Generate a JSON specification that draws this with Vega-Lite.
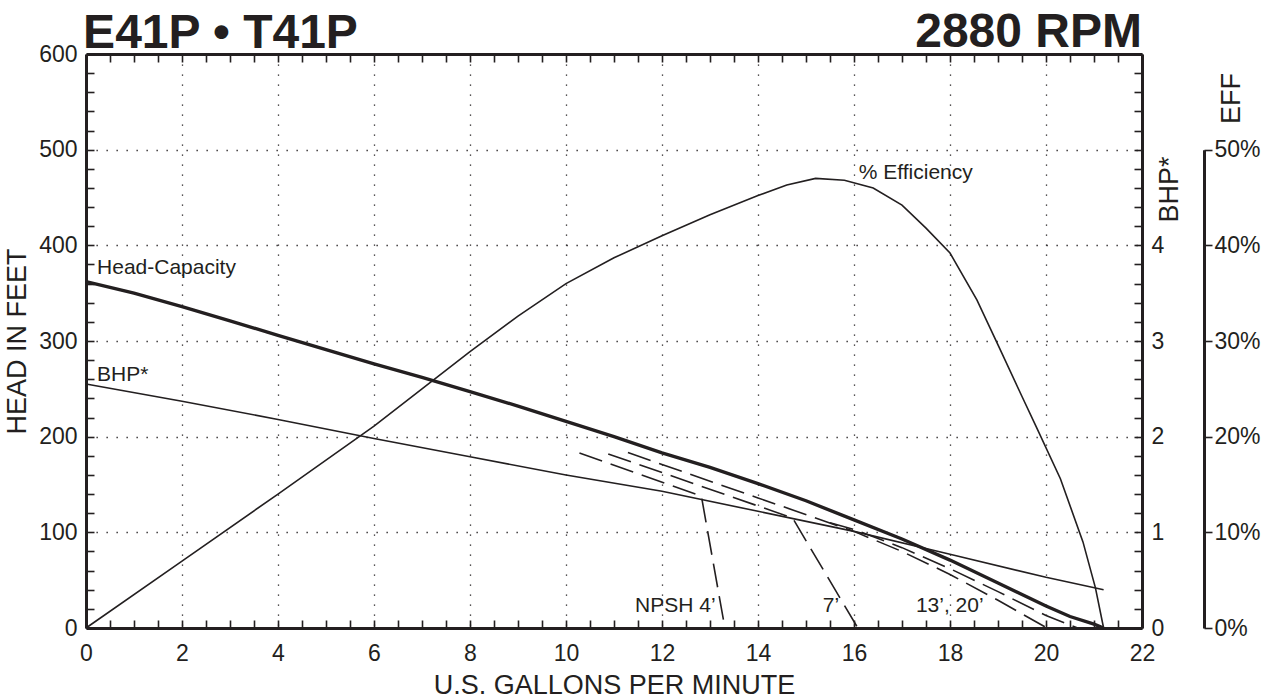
{
  "$schema": "https://vega.github.io/schema/vega-lite/v6.json",
  "width": 1056,
  "height": 574,
  "autosize": {"type": "none"},
  "padding": {"left": 86, "top": 54, "right": 134, "bottom": 70},
  "background": "white",
  "config": {
    "view": {"stroke": null},
    "font": "Liberation Sans",
    "axis": {
      "domainColor": "#231f20", "domainWidth": 3,
      "tickColor": "#231f20", "tickWidth": 1.6,
      "labelColor": "#231f20", "labelFont": "Liberation Sans", "labelFontSize": 23,
      "titleColor": "#231f20", "titleFont": "Liberation Sans", "titleFontSize": 27, "titleFontWeight": "normal",
      "labelOverlap": false, "labelFlush": false, "labelBound": false,
      "gridColor": "#231f20", "gridDash": [1.3, 8.7], "gridWidth": 1.3
    }
  },
  "datasets": {
    "head": [
      {"gpm": 0, "ft": 362}, {"gpm": 1, "ft": 350}, {"gpm": 2, "ft": 336}, {"gpm": 3, "ft": 321},
      {"gpm": 4, "ft": 306}, {"gpm": 5, "ft": 291}, {"gpm": 6, "ft": 276}, {"gpm": 7, "ft": 262},
      {"gpm": 8, "ft": 247}, {"gpm": 9, "ft": 232}, {"gpm": 10, "ft": 216}, {"gpm": 11, "ft": 200},
      {"gpm": 12, "ft": 183}, {"gpm": 13, "ft": 168}, {"gpm": 14, "ft": 151}, {"gpm": 15, "ft": 133},
      {"gpm": 16, "ft": 113}, {"gpm": 17, "ft": 93}, {"gpm": 18, "ft": 71}, {"gpm": 19, "ft": 47},
      {"gpm": 20, "ft": 23}, {"gpm": 20.5, "ft": 12}, {"gpm": 21, "ft": 4}, {"gpm": 21.2, "ft": 0}
    ],
    "bhp": [
      {"gpm": 0, "bhp": 2.55}, {"gpm": 2, "bhp": 2.37}, {"gpm": 4, "bhp": 2.18}, {"gpm": 6, "bhp": 1.98},
      {"gpm": 8, "bhp": 1.79}, {"gpm": 10, "bhp": 1.6}, {"gpm": 12, "bhp": 1.43}, {"gpm": 14, "bhp": 1.22},
      {"gpm": 16, "bhp": 1.01}, {"gpm": 18, "bhp": 0.77}, {"gpm": 20, "bhp": 0.53}, {"gpm": 21.2, "bhp": 0.4}
    ],
    "eff": [
      {"gpm": 0, "eff": 0}, {"gpm": 2, "eff": 7}, {"gpm": 4, "eff": 14}, {"gpm": 6, "eff": 21.1},
      {"gpm": 7, "eff": 25}, {"gpm": 8, "eff": 28.9}, {"gpm": 9, "eff": 32.6}, {"gpm": 10, "eff": 36},
      {"gpm": 11, "eff": 38.7}, {"gpm": 12, "eff": 41}, {"gpm": 13, "eff": 43.2}, {"gpm": 14, "eff": 45.2},
      {"gpm": 14.6, "eff": 46.3}, {"gpm": 15.2, "eff": 47}, {"gpm": 15.8, "eff": 46.8}, {"gpm": 16.4, "eff": 46},
      {"gpm": 17, "eff": 44.2}, {"gpm": 17.5, "eff": 41.8}, {"gpm": 18, "eff": 39.2}, {"gpm": 18.56, "eff": 34.3},
      {"gpm": 19, "eff": 29.6}, {"gpm": 19.5, "eff": 24.2}, {"gpm": 19.8, "eff": 21}, {"gpm": 20.3, "eff": 15.6},
      {"gpm": 20.77, "eff": 9}, {"gpm": 21.03, "eff": 4.2}, {"gpm": 21.2, "eff": 0}
    ],
    "npsh": [
      {"curve": "4", "gpm": 10.28, "ft": 183}, {"curve": "4", "gpm": 12.82, "ft": 138}, {"curve": "4", "gpm": 13.31, "ft": 0},
      {"curve": "7", "gpm": 10.88, "ft": 182}, {"curve": "7", "gpm": 14.72, "ft": 115}, {"curve": "7", "gpm": 16.08, "ft": 0},
      {"curve": "13", "gpm": 11.29, "ft": 183.4}, {"curve": "13", "gpm": 14, "ft": 136}, {"curve": "13", "gpm": 16, "ft": 101},
      {"curve": "13", "gpm": 17, "ft": 80}, {"curve": "13", "gpm": 18, "ft": 56}, {"curve": "13", "gpm": 19, "ft": 29},
      {"curve": "13", "gpm": 20.02, "ft": 0},
      {"curve": "20", "gpm": 15.5, "ft": 110}, {"curve": "20", "gpm": 16, "ft": 103}, {"curve": "20", "gpm": 17, "ft": 84},
      {"curve": "20", "gpm": 18, "ft": 62}, {"curve": "20", "gpm": 19, "ft": 38}, {"curve": "20", "gpm": 20, "ft": 13},
      {"curve": "20", "gpm": 20.66, "ft": 0}
    ],
    "labels": [
      {"gpm": 0.23, "ft": 376, "text": "Head-Capacity"},
      {"gpm": 0.23, "ft": 264.5, "text": "BHP*"},
      {"gpm": 16.1, "ft": 476, "text": "% Efficiency"},
      {"gpm": 11.44, "ft": 23, "text": "NPSH 4’"},
      {"gpm": 15.35, "ft": 23, "text": "7’"},
      {"gpm": 17.29, "ft": 23, "text": "13’, 20’"}
    ],
    "titleLeft": [{"gpm": -0.06, "ft": 606, "text": "E41P • T41P"}],
    "titleRight": [{"gpm": 22, "ft": 607, "text": "2880 RPM"}]
  },
  "layer": [
    {
      "data": {"name": "head"},
      "mark": {"type": "line", "color": "#231f20", "strokeWidth": 3.4},
      "encoding": {
        "x": {
          "field": "gpm", "type": "quantitative",
          "scale": {"domain": [0, 22], "nice": false, "zero": false},
          "axis": {
            "orient": "bottom", "title": "U.S. GALLONS PER MINUTE",
            "values": [0,0.5,1,1.5,2,2.5,3,3.5,4,4.5,5,5.5,6,6.5,7,7.5,8,8.5,9,9.5,10,10.5,11,11.5,12,12.5,13,13.5,14,14.5,15,15.5,16,16.5,17,17.5,18,18.5,19,19.5,20,20.5,21,21.5,22],
            "labelExpr": "datum.value % 2 === 0 ? '' + datum.value : ''",
            "tickSize": -8, "labelPadding": 33, "labelBaseline": "middle",
            "grid": true,
            "gridOpacity": {"condition": {"test": "datum.value % 2 === 0 && datum.value > 0 && datum.value < 22", "value": 1}, "value": 0},
            "titleX": 528, "titleY": 57, "titleBaseline": "middle"
          }
        },
        "y": {
          "field": "ft", "type": "quantitative",
          "scale": {"domain": [0, 600], "nice": false},
          "axis": {
            "orient": "left", "title": "HEAD IN FEET",
            "values": [0,20,40,60,80,100,120,140,160,180,200,220,240,260,280,300,320,340,360,380,400,420,440,460,480,500,520,540,560,580,600],
            "labelExpr": "datum.value % 100 === 0 ? '' + datum.value : ''",
            "tickSize": -8, "labelPadding": 17,
            "grid": true,
            "gridOpacity": {"condition": {"test": "datum.value % 100 === 0 && datum.value > 0 && datum.value < 600", "value": 1}, "value": 0},
            "titleX": -69, "titleY": 287, "titleBaseline": "middle", "titleAngle": 270
          }
        }
      }
    },
    {
      "data": {"name": "npsh"},
      "mark": {"type": "line", "color": "#231f20", "strokeWidth": 1.6, "strokeDash": [24, 9]},
      "encoding": {
        "x": {"field": "gpm", "type": "quantitative", "axis": null},
        "y": {"field": "ft", "type": "quantitative", "scale": {"domain": [0, 600], "nice": false}, "axis": null},
        "detail": {"field": "curve", "type": "nominal"}
      }
    },
    {
      "data": {"name": "labels"},
      "mark": {"type": "text", "align": "left", "baseline": "middle", "fontSize": 21, "font": "Liberation Sans", "color": "#231f20"},
      "encoding": {
        "x": {"field": "gpm", "type": "quantitative", "axis": null},
        "y": {"field": "ft", "type": "quantitative", "scale": {"domain": [0, 600], "nice": false}, "axis": null},
        "text": {"field": "text"}
      }
    },
    {
      "data": {"name": "titleLeft"},
      "mark": {"type": "text", "align": "left", "baseline": "alphabetic", "fontSize": 48, "fontWeight": "bold", "font": "Liberation Sans", "color": "#231f20"},
      "encoding": {
        "x": {"field": "gpm", "type": "quantitative", "axis": null},
        "y": {"field": "ft", "type": "quantitative", "scale": {"domain": [0, 600], "nice": false}, "axis": null},
        "text": {"field": "text"}
      }
    },
    {
      "data": {"name": "titleRight"},
      "mark": {"type": "text", "align": "right", "baseline": "alphabetic", "fontSize": 48, "fontWeight": "bold", "font": "Liberation Sans", "color": "#231f20"},
      "encoding": {
        "x": {"field": "gpm", "type": "quantitative", "axis": null},
        "y": {"field": "ft", "type": "quantitative", "scale": {"domain": [0, 600], "nice": false}, "axis": null},
        "text": {"field": "text"}
      }
    },
    {
      "data": {"name": "bhp"},
      "mark": {"type": "line", "color": "#231f20", "strokeWidth": 1.6},
      "encoding": {
        "x": {
          "field": "gpm", "type": "quantitative",
          "axis": {
            "orient": "top", "title": null, "labels": false,
            "values": [0,0.5,1,1.5,2,2.5,3,3.5,4,4.5,5,5.5,6,6.5,7,7.5,8,8.5,9,9.5,10,10.5,11,11.5,12,12.5,13,13.5,14,14.5,15,15.5,16,16.5,17,17.5,18,18.5,19,19.5,20,20.5,21,21.5,22],
            "tickSize": -8, "grid": false
          }
        },
        "y": {
          "field": "bhp", "type": "quantitative",
          "scale": {"domain": [0, 6], "nice": false},
          "axis": {
            "orient": "right", "title": "BHP*",
            "values": [0,0.2,0.4,0.6,0.8,1,1.2,1.4,1.6,1.8,2,2.2,2.4,2.6,2.8,3,3.2,3.4,3.6,3.8,4,4.2,4.4,4.6,4.8,5,5.2,5.4,5.6,5.8,6],
            "labelExpr": "datum.value % 1 === 0 && datum.value <= 4 ? '' + datum.value : ''",
            "tickSize": -8, "labelPadding": 17, "grid": false,
            "titleX": 27, "titleY": 135, "titleAngle": 270, "titleAlign": "center", "titleBaseline": "middle"
          }
        }
      }
    },
    {
      "data": {"name": "eff"},
      "mark": {"type": "line", "color": "#231f20", "strokeWidth": 1.6},
      "encoding": {
        "x": {"field": "gpm", "type": "quantitative", "axis": null},
        "y": {
          "field": "eff", "type": "quantitative",
          "scale": {"domain": [0, 50], "range": [574, 95.7], "nice": false},
          "axis": {
            "orient": "right", "offset": 62, "title": "EFF",
            "values": [0, 10, 20, 30, 40, 50],
            "labelExpr": "datum.value + '%'",
            "tickSize": 8, "labelPadding": 2, "grid": false,
            "titleX": 27, "titleY": 44, "titleAngle": 270, "titleAlign": "center", "titleBaseline": "middle"
          }
        }
      }
    }
  ],
  "resolve": {"scale": {"y": "independent"}, "axis": {"x": "independent", "y": "independent"}}
}
